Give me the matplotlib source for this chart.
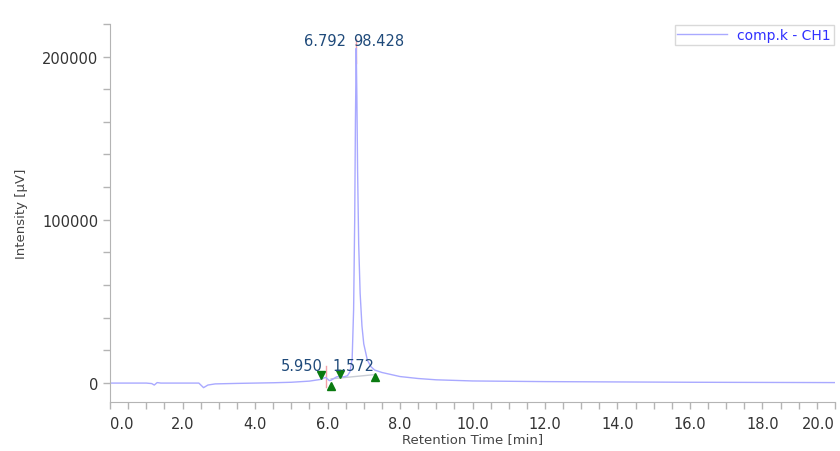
import matplotlib
matplotlib.use("Agg")
import matplotlib.pyplot as plt
from matplotlib.ticker import MultipleLocator, FixedLocator

# Chromatogram trace (retention time in min, intensity in µV)
time_min = [0.0, 1.0, 1.15, 1.22, 1.3, 1.4, 2.45, 2.52, 2.58, 2.7, 2.9, 3.5,
             4.0, 4.5, 5.0, 5.5, 5.8, 5.95, 6.05, 6.1, 6.25, 6.34, 6.45, 6.55,
             6.62, 6.68, 6.72, 6.75, 6.77, 6.792, 6.81, 6.83, 6.86, 6.9, 6.95,
             7.0, 7.1, 7.2, 7.3, 7.5, 8.0, 8.5, 9.0, 10.0, 12.0, 14.0, 16.0,
             18.0, 20.0]
intensity_uv = [0, 0, -300, -1200, 300, 0, 0, -1500, -2800, -1200, -500, -200,
                0, 200, 500, 1200, 2200, 3500, 1500, 1800, 3800, 4200, 3800, 4500,
                7000, 15000, 45000, 100000, 160000, 205000, 175000, 130000, 85000,
                55000, 35000, 24000, 14000, 10000, 8000, 6500, 4000, 2800, 2000,
                1300, 900, 700, 500, 400, 300]

# Integration marks
start_t = [5.82, 6.34]
start_y = [5200, 5600]
end_t = [6.10, 7.31]
end_y = [-1500, 3800]
baseline_t = [6.10, 7.31]
baseline_y = [2600, 5200]

# Peak table
peak_rt = [5.950, 6.792]
peak_area_pct = [1.572, 98.428]
peak_height = [3500, 205000]
label_y = [11000, 210000]

x_ticks = [0, 2, 4, 6, 8, 10, 12, 14, 16, 18, 20]
y_ticks = [0, 100000, 200000]

fig = plt.figure(figsize=(8.4, 4.52), dpi=100)
ax = fig.add_axes([0.131, 0.108, 0.863, 0.837])

trace_color = "#a9a9ff"
label_color = "#1f4a7a"
axis_color = "#b4b4b4"

ax.plot(baseline_t, baseline_y, color="#c8ccd4", lw=1.0, zorder=1)
ax.plot(time_min, intensity_uv, color=trace_color, lw=1.0, label="comp.k - CH1", zorder=2)

# apex markers
for rt, h in zip(peak_rt, peak_height):
    top = h + 6000 if h > 100000 else h + 7000
    bot = h - 9000 if h > 100000 else h - 6000
    ax.plot([rt, rt], [bot, top], color="#f4a0a8", lw=1.0, zorder=1)

ax.plot(start_t, start_y, linestyle="none", marker="v", color="#0a7a10", ms=6, zorder=3)
ax.plot(end_t, end_y, linestyle="none", marker="^", color="#0a7a10", ms=6, zorder=3)

# (left, right) label offsets in points from each apex
offsets = [(-2.5, 5), (-7.5, -2.3)]
for rt, pct, ly, (lo, ro) in zip(peak_rt, peak_area_pct, label_y, offsets):
    ax.annotate(f"{rt:.3f}", (rt, ly), xytext=(lo, 0), textcoords="offset points",
                ha="right", va="center", color=label_color, fontsize=10.5)
    ax.annotate(f"{pct:.3f}", (rt, ly), xytext=(ro, 0), textcoords="offset points",
                ha="left", va="center", color=label_color, fontsize=10.5)

ax.set_xlim(0, 20)
ax.set_ylim(-11700, 220000)

ax.xaxis.set_major_locator(FixedLocator(x_ticks))
ax.xaxis.set_minor_locator(MultipleLocator(0.5))
ax.yaxis.set_major_locator(FixedLocator(y_ticks))
ax.yaxis.set_minor_locator(MultipleLocator(20000))
ax.set_xticklabels([f"{v:.1f}" for v in x_ticks])
ax.set_yticklabels([str(v) for v in y_ticks])
xlabels = ax.get_xticklabels()
xlabels[0].set_ha("left")
xlabels[-1].set_ha("right")

for side in ("top", "right"):
    ax.spines[side].set_visible(False)
for side in ("left", "bottom"):
    ax.spines[side].set_color(axis_color)
ax.tick_params(which="both", direction="out", color=axis_color, length=5, width=1,
               labelcolor="#333333", labelsize=10.5)
ax.tick_params(axis="x", pad=5)

ax.set_xlabel("Retention Time [min]", fontsize=9.5, color="#444444", labelpad=1)
ax.set_ylabel("Intensity [µV]", fontsize=9.5, color="#444444", labelpad=10)

leg = ax.legend(loc="upper right", bbox_to_anchor=(1.0, 1.0), frameon=True, fancybox=False,
                fontsize=10, handlelength=3.6, borderpad=0.2, borderaxespad=0.1,
                handletextpad=0.7)
leg.get_frame().set_edgecolor("#d0d0d0")
leg.get_frame().set_linewidth(1.0)
for t in leg.get_texts():
    t.set_color("#3030ff")

fig.savefig("out.png", dpi=100)
